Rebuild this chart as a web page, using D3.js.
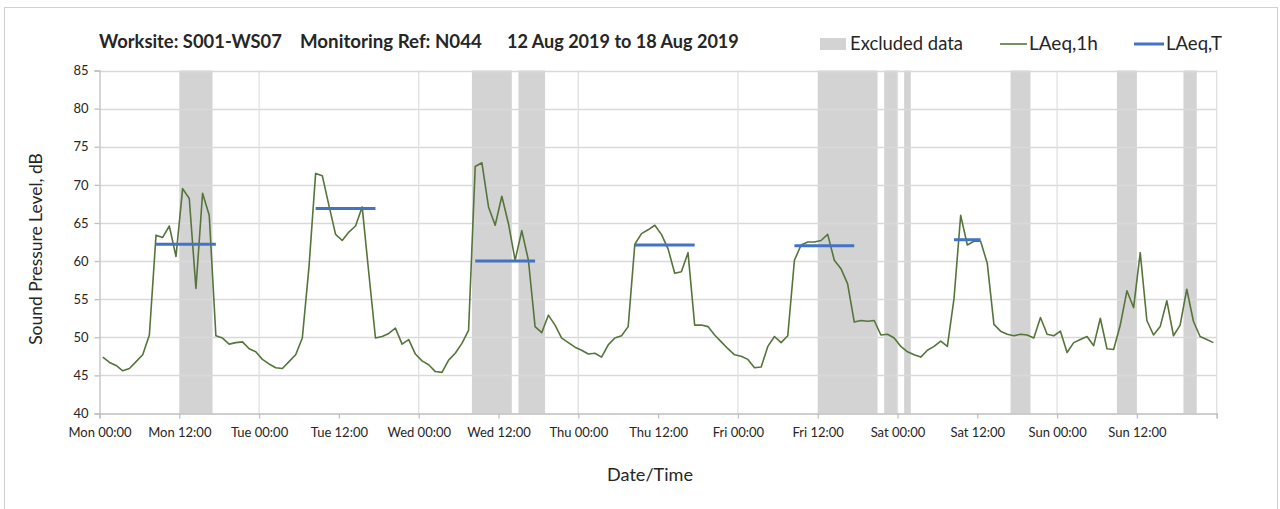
<!DOCTYPE html>
<html>
<head>
<meta charset="utf-8">
<script src="https://cdn.jsdelivr.net/npm/d3@7"></script>
<style>
  html, body { margin: 0; padding: 0; background: #fff; }
  svg { display: block; }
  text { font-family: Lato, "Open Sans", "DejaVu Sans", sans-serif; fill: #262626; }
</style>
</head>
<body>
<svg id="chart" width="1280" height="509"></svg>
<script>
// ---------- data ----------
const titleParts = ["Worksite: S001-WS07", "Monitoring Ref: N044", "12 Aug 2019 to 18 Aug 2019"];
const xTickLabels = ["Mon 00:00","Mon 12:00","Tue 00:00","Tue 12:00","Wed 00:00","Wed 12:00",
  "Thu 00:00","Thu 12:00","Fri 00:00","Fri 12:00","Sat 00:00","Sat 12:00","Sun 00:00","Sun 12:00"];
const yTicks = [40,45,50,55,60,65,70,75,80,85];

// hourly LAeq,1h (hour 0 = Mon 00:00)
const laeq1h = [
  47.4,46.7,46.3,45.6,45.9,46.8,47.7,50.3,63.4,63.1,64.6,60.6,69.5,68.2,56.4,68.9,66.0,50.2,49.9,49.1,49.3,49.4,48.5,48.1,
  47.1,46.5,46.0,45.9,46.8,47.7,49.9,59.2,71.5,71.2,67.3,63.5,62.7,63.8,64.6,67.1,58.4,49.9,50.1,50.5,51.2,49.1,49.7,47.8,
  46.9,46.4,45.5,45.4,47.0,47.9,49.2,50.9,72.4,72.9,67.1,64.7,68.5,64.9,60.1,64.0,60.1,51.4,50.6,52.9,51.6,49.9,49.3,48.7,
  48.3,47.8,47.9,47.4,49.0,49.9,50.2,51.4,62.2,63.6,64.1,64.7,63.5,61.6,58.4,58.6,61.1,51.6,51.6,51.4,50.3,49.4,48.5,47.7,
  47.5,47.1,46.0,46.1,48.8,50.1,49.3,50.2,60.1,62.1,62.5,62.5,62.7,63.5,60.1,59.0,57.0,52.0,52.2,52.1,52.2,50.3,50.4,49.9,
  48.8,48.1,47.7,47.4,48.3,48.8,49.5,48.8,55.1,66.0,62.1,62.6,62.6,59.7,51.7,50.8,50.4,50.2,50.4,50.3,49.9,52.6,50.4,50.2,
  50.8,48.0,49.3,49.7,50.1,48.9,52.5,48.5,48.4,51.6,56.1,53.9,61.1,52.2,50.3,51.4,54.8,50.2,51.6,56.3,52.1,50.1,49.7,49.3
];

// excluded periods (start hour, end hour)
const excludedStart = [12, 56, 63, 108, 118, 121, 137, 153, 163];
const excludedEnd   = [17, 62, 67, 117, 120, 122, 140, 156, 165];

// LAeq,T periods
const laeqTStart = [8, 32, 56, 80, 104, 128];
const laeqTEnd   = [17, 41, 65, 89, 113, 132];
const laeqTValue = [62.2, 66.9, 60.0, 62.1, 62.0, 62.8];

const legendLabels = ["Excluded data", "LAeq,1h", "LAeq,T"];

// ---------- layout ----------
const svg = d3.select("#chart");
const plot = { left: 99.5, right: 1216.7, top: 70.5, bottom: 413.5 };
const x = d3.scaleLinear().domain([0, 168]).range([plot.left, plot.right]);
const y = d3.scaleLinear().domain([40, 85]).range([plot.bottom, plot.top]);

const cGrid = "#d9d9d9", cAxis = "#bfbfbf", cBand = "#d3d3d3";
const cGreen = "#55753a", cBlue = "#4472c4";

function fitWidth(sel, w) {
  const node = sel.node();
  const fs = parseFloat(sel.attr("font-size"));
  const len = node.getComputedTextLength();
  if (len > 0) sel.attr("font-size", (fs * w / len).toFixed(2));
}

// chart border
svg.append("rect").attr("x", 4.5).attr("y", 7.5).attr("width", 1273).attr("height", 520)
  .attr("fill", "none").attr("stroke", "#d0d0d0").attr("stroke-width", 1);

// excluded bands
svg.append("g").selectAll("rect").data(excludedStart).join("rect")
  .attr("x", (d) => x(d))
  .attr("width", (d, i) => x(excludedEnd[i]) - x(d))
  .attr("y", plot.top).attr("height", plot.bottom - plot.top)
  .attr("fill", cBand);

// horizontal grid
svg.append("g").selectAll("line").data(yTicks.filter(v => v > 40)).join("line")
  .attr("x1", plot.left).attr("x2", plot.right)
  .attr("y1", d => Math.round(y(d)) + 0.5).attr("y2", d => Math.round(y(d)) + 0.5)
  .attr("stroke", cGrid).attr("stroke-width", 1.3);

// vertical grid (days)
const dayTicks = d3.range(24, 169, 24);
svg.append("g").selectAll("line").data(dayTicks).join("line")
  .attr("x1", d => x(d)).attr("x2", d => x(d))
  .attr("y1", plot.top).attr("y2", plot.bottom)
  .attr("stroke", "#e0e0e0").attr("stroke-width", 1.3);

// axes
const yAxis = svg.append("g").attr("transform", `translate(${plot.left},0)`)
  .call(d3.axisLeft(y).tickValues(yTicks).tickSize(5).tickPadding(6).tickFormat(d3.format("d")));
const xTickVals = d3.range(0, 169, 12);
const xAxis = svg.append("g").attr("transform", `translate(0,${plot.bottom})`)
  .call(d3.axisBottom(x).tickValues(xTickVals).tickSize(5).tickPadding(7)
    .tickFormat((d, i) => xTickLabels[i] || ""));
[yAxis, xAxis].forEach(a => {
  a.select(".domain").attr("stroke", cAxis).attr("stroke-width", 1.3);
  a.selectAll(".tick line").attr("stroke", cAxis).attr("stroke-width", 1.3);
  a.selectAll("text").attr("font-size", 13).attr("fill", "#404040")
    .attr("font-family", "Lato, 'Open Sans', sans-serif");
});
xAxis.selectAll("text").attr("dy", "0.9em");

// LAeq,1h line
const line = d3.line().x((d, i) => x(i + 0.5)).y(d => y(d));
svg.append("path").datum(laeq1h).attr("d", line)
  .attr("fill", "none").attr("stroke", cGreen).attr("stroke-width", 1.6)
  .attr("stroke-linejoin", "round");

// LAeq,T segments
svg.append("g").selectAll("line").data(laeqTValue).join("line")
  .attr("x1", (d, i) => x(laeqTStart[i] + 0.5))
  .attr("x2", (d, i) => x(laeqTEnd[i] + 0.5))
  .attr("y1", d => y(d)).attr("y2", d => y(d))
  .attr("stroke", cBlue).attr("stroke-width", 3);

// title
const titleX = [99, 300, 507];
const titleW = [183, 182, 232];
titleParts.forEach((t, i) => {
  const s = svg.append("text").attr("x", titleX[i]).attr("y", 48)
    .attr("font-size", 16).attr("font-weight", "bold").attr("fill", "#1a1a1a").text(t);
  fitWidth(s, titleW[i]);
});

// legend
const lg = svg.append("g");
lg.append("rect").attr("x", 820).attr("y", 38).attr("width", 26).attr("height", 12).attr("fill", cBand);
const l1 = lg.append("text").attr("x", 850).attr("y", 50).attr("font-size", 17).attr("fill", "#404040").text(legendLabels[0]);
fitWidth(l1, 113);
lg.append("line").attr("x1", 1000).attr("x2", 1027).attr("y1", 44).attr("y2", 44)
  .attr("stroke", cGreen).attr("stroke-width", 1.6);
const l2 = lg.append("text").attr("x", 1029).attr("y", 50).attr("font-size", 17).attr("fill", "#404040").text(legendLabels[1]);
fitWidth(l2, 69);
lg.append("line").attr("x1", 1134).attr("x2", 1164).attr("y1", 44).attr("y2", 44)
  .attr("stroke", cBlue).attr("stroke-width", 3);
const l3 = lg.append("text").attr("x", 1166).attr("y", 50).attr("font-size", 17).attr("fill", "#404040").text(legendLabels[2]);
fitWidth(l3, 56);

// axis titles
const xt = svg.append("text").attr("x", 650).attr("y", 481).attr("text-anchor", "middle")
  .attr("font-size", 17).attr("fill", "#404040").text("Date/Time");
fitWidth(xt, 86);
const yt = svg.append("text").attr("transform", "translate(42,249) rotate(-90)").attr("text-anchor", "middle")
  .attr("font-size", 17).attr("fill", "#404040").text("Sound Pressure Level, dB");
fitWidth(yt, 192);
</script>
</body>
</html>
